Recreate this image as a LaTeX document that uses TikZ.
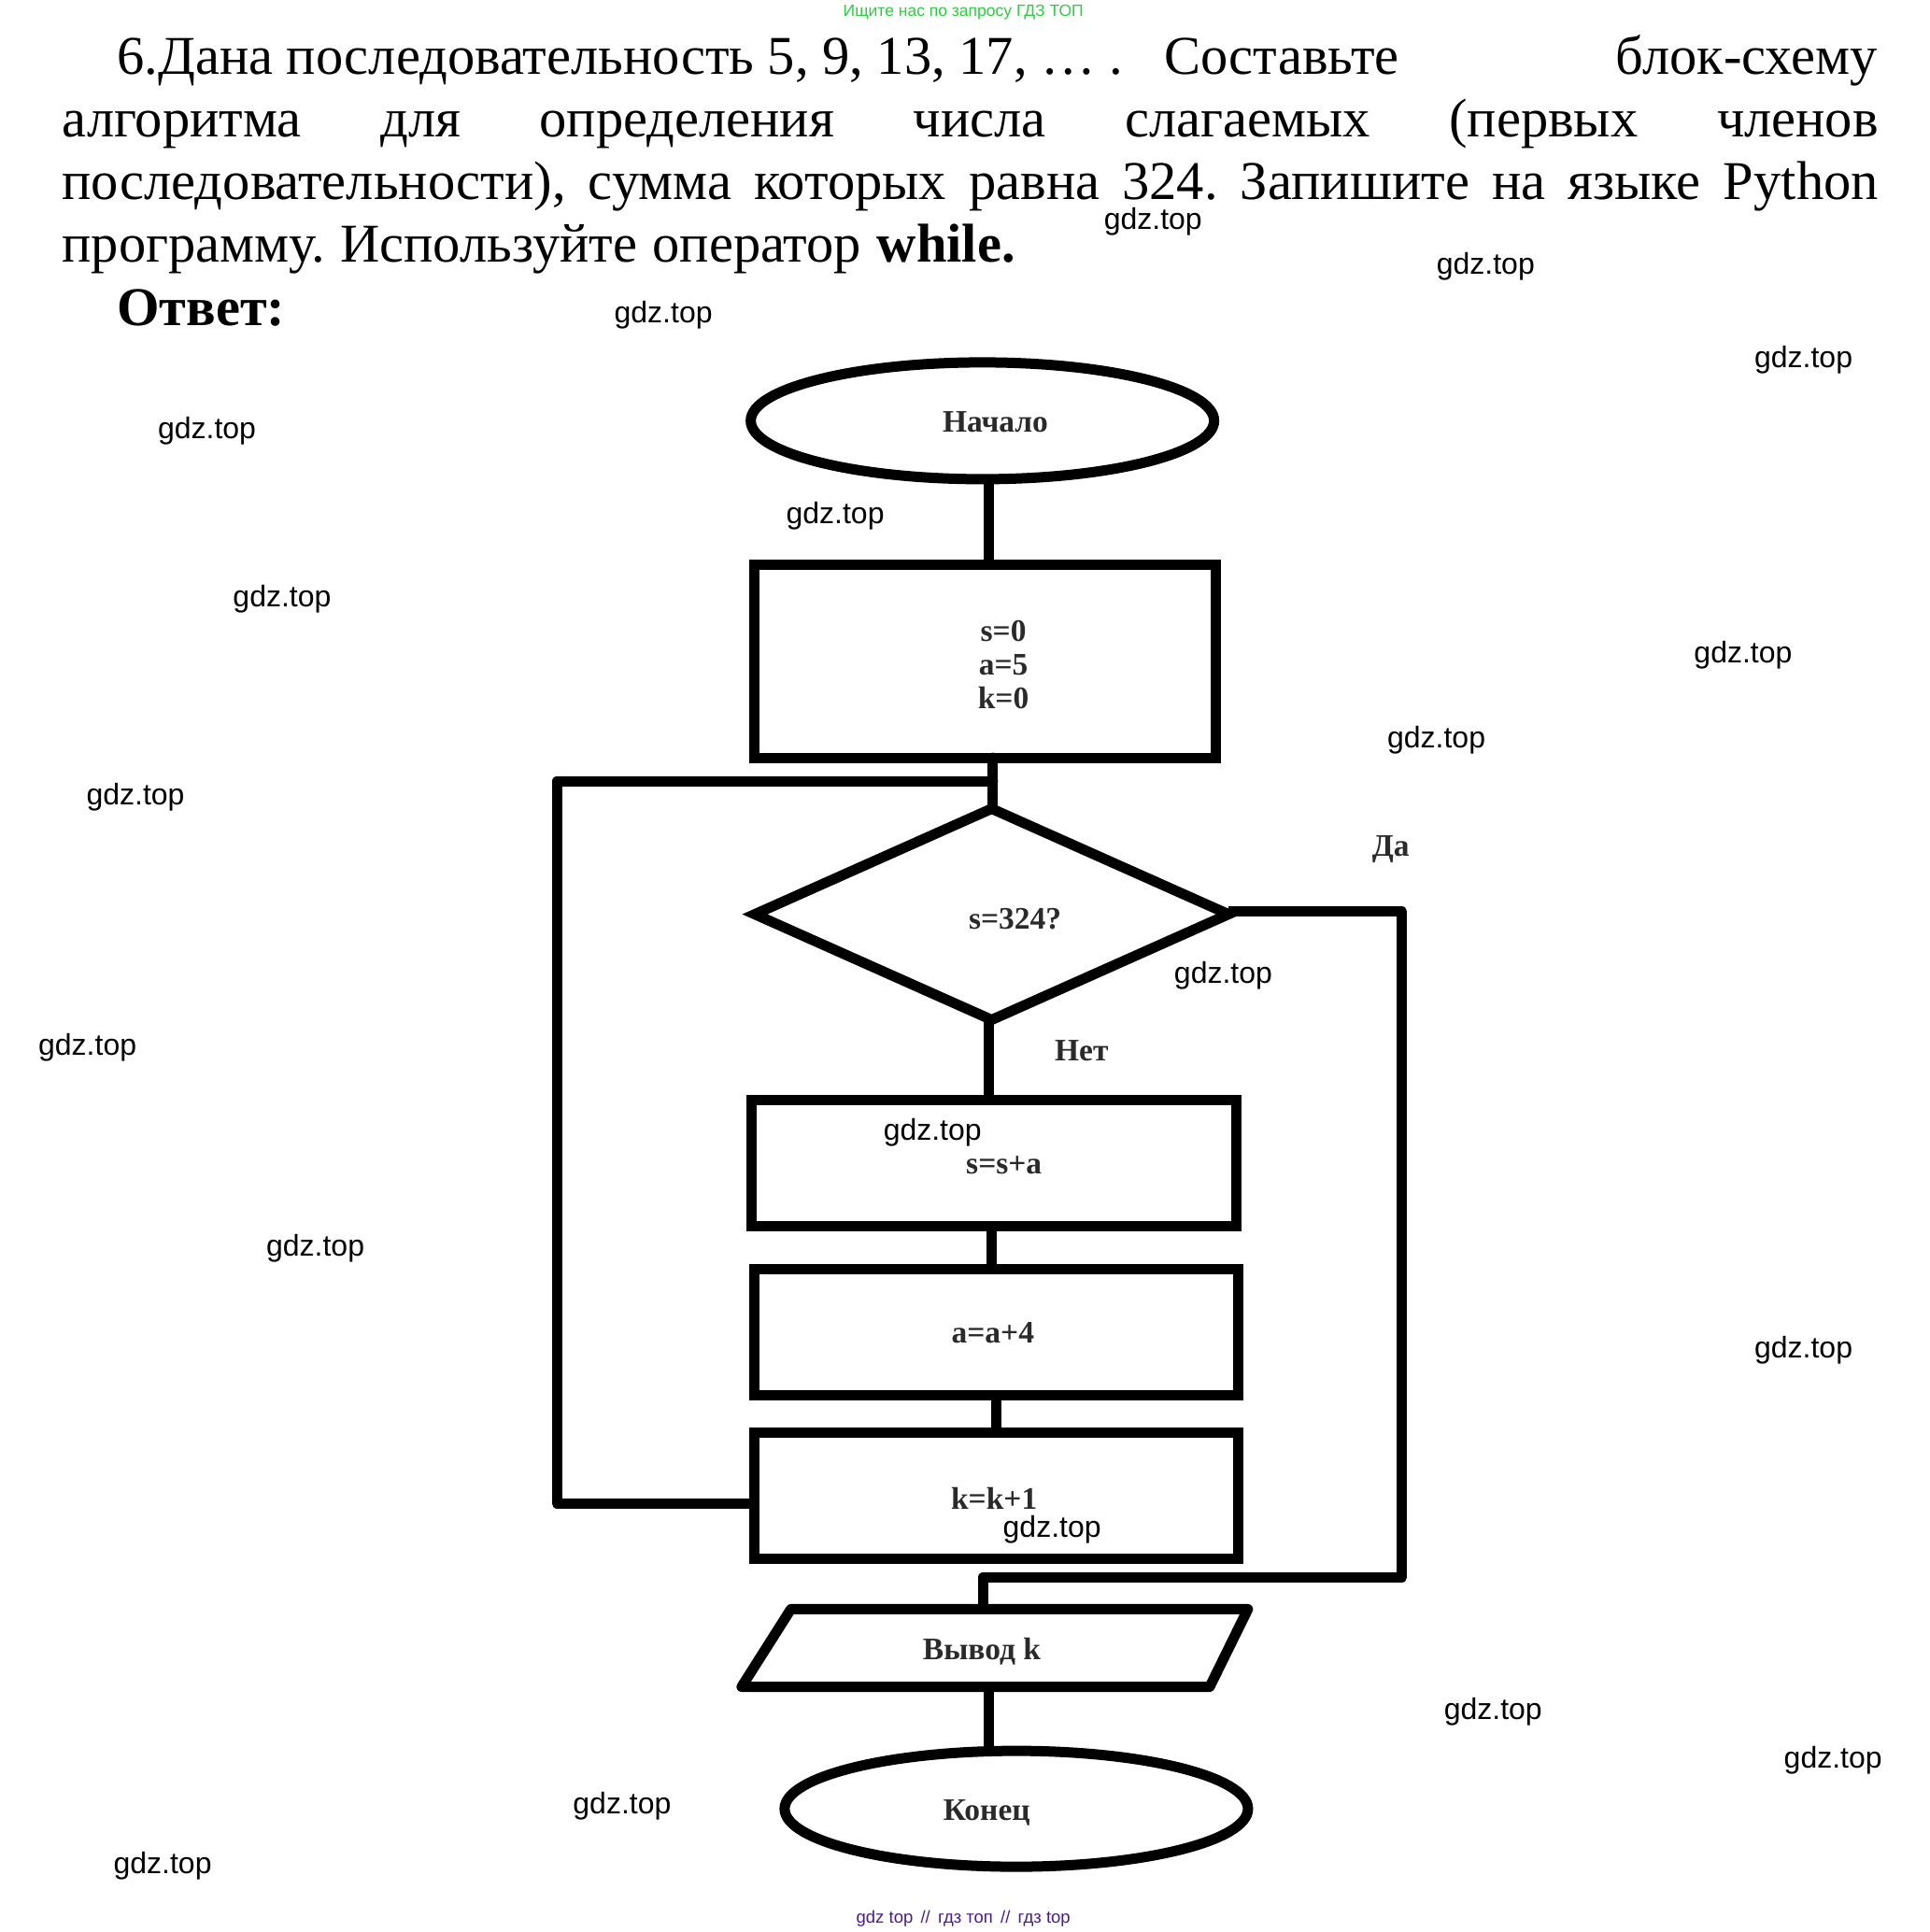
\documentclass[tikz,border=0pt]{standalone}
\usepackage{fontspec}
\setmainfont{Liberation Serif}
\newfontfamily\wmfont{Liberation Sans}
\usetikzlibrary{shapes.geometric}
\definecolor{inkgray}{HTML}{2A2A2A}
\definecolor{topgreen}{HTML}{2ECC40}
\definecolor{botpurple}{HTML}{4B1A8C}
\frenchspacing
\tikzset{
  x=1.3186pt,y=-1.3188pt,
  shapeline/.style={draw=black,line width=11pt,outer sep=0pt,inner sep=0pt},
  conn/.style={draw=black,line width=11pt},
  boxnode/.style={shapeline,rectangle,anchor=north west},
  para/.style={anchor=base west,inner sep=0pt,outer sep=0pt,font=\fontsize{58.5}{60}\selectfont},
  parabold/.style={para,font=\fontsize{58.5}{60}\selectfont\bfseries},
  lbl/.style={inner sep=0pt,outer sep=0pt,text=inkgray,font=\fontsize{33.5}{35.6}\selectfont\bfseries,align=center},
  wm/.style={inner sep=0pt,outer sep=0pt,font=\wmfont\fontsize{32}{36}\selectfont},
}
\begin{document}
\begin{tikzpicture}
\useasboundingbox (0,0) rectangle (1566,1568);
% heading
\node[inner sep=0pt,text=topgreen,font=\wmfont\fontsize{17.5}{18}\selectfont] (top) at (782,10) {Ищите нас по запросу ГДЗ ТОП};
\node[para] (l1a) at (95,60) {6.Дана последовательность 5, 9, 13, 17, … .};
\node[para] (l1b) at (945,60) {Составьте};
\node[para,anchor=base east] (l1c) at (1524,60) {блок-схему};
\node[para] (l2) at (50.5,111) {\makebox[1944pt][s]{алгоритма для определения числа слагаемых (первых членов}};
\node[para] (l3) at (50.5,162) {\makebox[1944pt][s]{последовательности), сумма которых равна 324. Запишите на языке Python}};
\node[para] (l4) at (50.5,213) {\makebox[1020pt][s]{программу. Используйте оператор \textbf{while.}}};
\node[parabold] (ans) at (95,264) {Ответ:};
% shapes
\node[shapeline,ellipse,minimum width=496pt,minimum height=125pt] (start) at (797.5,341.5) {};
\node[boxnode,minimum width=494.5pt,minimum height=207pt] (init) at (612,458) {};
\node[shapeline,diamond,aspect=2.25,minimum width=507pt,minimum height=226pt] (cond) at (805,742) {};
\node[boxnode,minimum width=519pt,minimum height=135pt] (adds) at (610,893) {};
\node[boxnode,minimum width=518pt,minimum height=135pt] (adda) at (612,1030) {};
\node[boxnode,minimum width=518pt,minimum height=135pt] (addk) at (612,1163) {};
\coordinate (pa) at (642,1306);
\coordinate (pb) at (1013,1306);
\coordinate (pc) at (982,1369);
\coordinate (pd) at (602,1369);
\draw[conn,line join=round,line cap=round] (pa) -- (pb) -- (pc) -- (pd) -- cycle;
\node[shapeline,ellipse,minimum width=496pt,minimum height=124pt] (finish) at (825,1468) {};
% connector guide points
\coordinate (x1) at (803,0);
\coordinate (x2) at (806,0);
\coordinate (x3) at (805,0);
\coordinate (x4) at (809,0);
\coordinate (loopa) at (452,634);
\coordinate (loopb) at (452,1220);
\coordinate (loopj) at (806,634);
\coordinate (yesa) at (1138,740);
\coordinate (yesb) at (1138,1280);
\coordinate (yesc) at (798,1280);
\coordinate (yesd) at (798,1306);
\coordinate (outb) at (803,1369);
% connectors
\draw[conn] (start.south -| x1) -- (init.north -| x1);
\draw[conn,line cap=round] (init.south -| x2) -- (cond.north -| x2);
\draw[conn,line cap=round,line join=round] (loopj) -- (loopa) -- (loopb) -- (loopb -| addk.west);
\draw[conn,line join=round] (cond.east |- yesa) -- (yesa) -- (yesb) -- (yesc) -- (yesd);
\draw[conn] (cond.south -| x1) -- (adds.north -| x1);
\draw[conn] (adds.south -| x3) -- (adda.north -| x3);
\draw[conn] (adda.south -| x4) -- (addk.north -| x4);
\draw[conn] (outb) -- (finish.north -| outb);
% labels
\node[lbl] (tstart) at (808,342.5) {Начало};
\node[lbl] (tinit) at (814.5,539.5) {s=0\\a=5\\k=0};
\node[lbl] (tcond) at (824,745.5) {s=324?};
\node[lbl] (tyes) at (1129,689) {Да};
\node[lbl] (tno) at (878,853) {Нет};
\node[lbl] (tadds) at (815,946) {s=s+a};
\node[lbl] (tadda) at (806,1081.5) {a=a+4};
\node[lbl] (taddk) at (807,1216) {k=k+1};
\node[lbl] (tout) at (797,1340.5) {Вывод k};
\node[lbl] (tend) at (801,1471.5) {Конец};
% watermarks
\node[wm] (w1) at (936,180) {gdz.top};
\node[wm] (w2) at (1206,216) {gdz.top};
\node[wm] (w3) at (538.5,255.5) {gdz.top};
\node[wm] (w4) at (1464,292) {gdz.top};
\node[wm] (w5) at (168,349.5) {gdz.top};
\node[wm] (w6) at (678,419) {gdz.top};
\node[wm] (w7) at (229,486) {gdz.top};
\node[wm] (w8) at (1415,531.5) {gdz.top};
\node[wm] (w9) at (1166,601) {gdz.top};
\node[wm] (w10) at (110,647) {gdz.top};
\node[wm] (w11) at (993,792) {gdz.top};
\node[wm] (w12) at (71,850) {gdz.top};
\node[wm] (w13) at (757,919.5) {gdz.top};
\node[wm] (w14) at (256,1013.5) {gdz.top};
\node[wm] (w15) at (1464,1095.5) {gdz.top};
\node[wm] (w16) at (854,1241) {gdz.top};
\node[wm] (w17) at (1212,1389.5) {gdz.top};
\node[wm] (w18) at (1488,1429) {gdz.top};
\node[wm] (w19) at (505,1465.5) {gdz.top};
\node[wm] (w20) at (132,1514) {gdz.top};
\node[inner sep=0pt,text=botpurple,font=\wmfont\fontsize{18.5}{20}\selectfont] (bot) at (782,1557.5) {gdz top \,//\, гдз топ \,//\, гдз top};
\end{tikzpicture}
\end{document}
